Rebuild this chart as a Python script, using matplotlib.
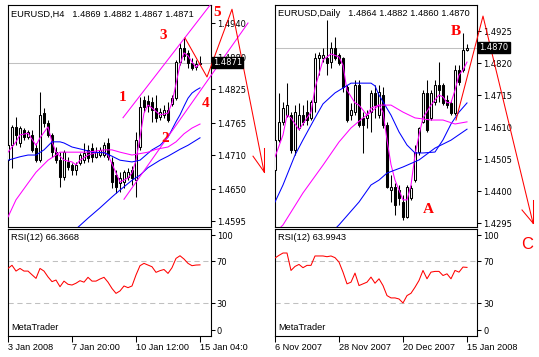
import matplotlib
matplotlib.use("Agg")
import matplotlib.pyplot as plt
from matplotlib.patches import Rectangle
from matplotlib.transforms import Bbox

plt.rcParams['font.family'] = ['DejaVu Sans']

# ---------------- EURUSD H4 ----------------
h4_open = [1.4701, 1.4727, 1.4759, 1.4731, 1.4754, 1.4741, 1.4745, 1.4722, 1.4701, 1.4783,
           1.4766, 1.4745, 1.4715, 1.4701, 1.4672, 1.4698, 1.4693, 1.4684, 1.4696, 1.4701,
           1.4719, 1.4722, 1.4707, 1.4710, 1.4710, 1.4731, 1.4698, 1.4675, 1.4661, 1.4663,
           1.4672, 1.4684, 1.4667, 1.4724, 1.4806, 1.4804, 1.4802, 1.4792, 1.4776, 1.4780,
           1.4789, 1.4799, 1.4809, 1.4872, 1.4897, 1.4888, 1.4870, 1.4863, 1.4869]
h4_high = [1.4736, 1.4762, 1.4776, 1.4761, 1.4757, 1.4754, 1.4754, 1.4731, 1.4820, 1.4792,
           1.4771, 1.4748, 1.4724, 1.4715, 1.4719, 1.4707, 1.4696, 1.4698, 1.4714, 1.4731,
           1.4727, 1.4731, 1.4724, 1.4724, 1.4733, 1.4740, 1.4707, 1.4684, 1.4681, 1.4684,
           1.4688, 1.4691, 1.4750, 1.4811, 1.4813, 1.4815, 1.4811, 1.4815, 1.4792, 1.4797,
           1.4802, 1.4815, 1.4876, 1.4905, 1.4914, 1.4893, 1.4879, 1.4876, 1.4882]
h4_low = [1.4693, 1.4688, 1.4727, 1.4724, 1.4736, 1.4738, 1.4715, 1.4698, 1.4698, 1.4759,
          1.4741, 1.4707, 1.4696, 1.4654, 1.4667, 1.4684, 1.4675, 1.4675, 1.4693, 1.4696,
          1.4698, 1.4698, 1.4705, 1.4707, 1.4707, 1.4701, 1.4653, 1.4644, 1.4646, 1.4653,
          1.4667, 1.4658, 1.4637, 1.4719, 1.4785, 1.4785, 1.4768, 1.4768, 1.4771, 1.4775,
          1.4768, 1.4795, 1.4806, 1.4867, 1.4876, 1.4862, 1.4858, 1.4858, 1.4867]
h4_close = [1.4727, 1.4759, 1.4745, 1.4757, 1.4741, 1.4750, 1.4719, 1.4701, 1.4780, 1.4766,
            1.4745, 1.4715, 1.4701, 1.4672, 1.4715, 1.4689, 1.4684, 1.4693, 1.4710, 1.4714,
            1.4705, 1.4707, 1.4715, 1.4719, 1.4727, 1.4707, 1.4663, 1.4654, 1.4670, 1.4681,
            1.4681, 1.4670, 1.4736, 1.4794, 1.4794, 1.4795, 1.4789, 1.4775, 1.4785, 1.4789,
            1.4771, 1.4809, 1.4872, 1.4897, 1.4883, 1.4870, 1.4862, 1.4869, 1.4871]
h4_rsi = [63, 66, 60.5, 63, 60.5, 60.5, 57, 53.6, 63, 60.5, 55, 50.5, 52, 45.7, 51, 48, 47.3,
          49, 51.4, 50, 54.6, 51, 51, 53, 54.6, 50, 44, 39.4, 41.7, 46.4, 44.8, 46.4, 56.8,
          65.6, 67.8, 66.2, 64.6, 59.3, 60.9, 62, 58.3, 63.7, 72.5, 75, 71.9, 67.8, 65.6,
          66.2, 66.37]
h4_ma_fast_i = [0, 2, 3, 5, 7, 8, 10, 11, 12, 14, 16, 17, 18, 20, 22, 24, 25, 27, 28, 30, 31,
                32, 33, 34, 35, 36, 38, 40, 41, 42, 43, 44, 45, 46, 47, 48]
h4_ma_fast_v = [1.4715, 1.4733, 1.4745, 1.4748, 1.4727, 1.4740, 1.4759, 1.4733, 1.4715, 1.4701,
                1.4698, 1.4693, 1.4701, 1.4710, 1.4714, 1.4715, 1.4710, 1.4679, 1.4663, 1.4670,
                1.4679, 1.4701, 1.4741, 1.4783, 1.4797, 1.4792, 1.4780, 1.4783, 1.4801, 1.4834,
                1.4867, 1.4888, 1.4883, 1.4872, 1.4863, 1.4869]
h4_ma_mid_i = [0, 3, 5, 7, 9, 11, 13, 14, 16, 19, 21, 24, 26, 28, 31, 33, 36, 38, 40, 42, 43,
               44, 45, 46, 47, 48]
h4_ma_mid_v = [1.4701, 1.4707, 1.4710, 1.4710, 1.4719, 1.4733, 1.4733, 1.4731, 1.4724, 1.4719,
               1.4715, 1.4714, 1.4708, 1.4701, 1.4698, 1.4701, 1.4719, 1.4727, 1.4741, 1.4768,
               1.4780, 1.4795, 1.4809, 1.4818, 1.4823, 1.4827]
h4_ma_slow_i = [0, 2, 5, 7, 10, 12, 13, 16, 20, 24, 26, 28, 31, 35, 37, 40, 42, 44, 46, 48]
h4_ma_slow_v = [1.4602, 1.4632, 1.4661, 1.4680, 1.4701, 1.4710, 1.4715, 1.4715, 1.4715, 1.4719,
                1.4719, 1.4715, 1.4710, 1.4715, 1.4720, 1.4724, 1.4733, 1.4747, 1.4757, 1.4764]
h4_ma_long_i = [17, 20, 23, 26, 28, 31, 33, 35, 38, 40, 43, 45, 48]
h4_ma_long_v = [1.4581, 1.4600, 1.4618, 1.4637, 1.4649, 1.4666, 1.4675, 1.4688, 1.4701, 1.4708,
                1.4720, 1.4727, 1.4740]
h4_yticks = [1.4595, 1.4650, 1.4710, 1.4765, 1.4825, 1.4880, 1.4940]
h4_xticks = [0, 16, 32, 48]
h4_xlabels = ['3 Jan 2008', '7 Jan 20:00', '10 Jan 12:00', '15 Jan 04:00']
h4_wave_x = [44.25, 49.75, 56, 64]
h4_wave_y = [1.4914, 1.4846, 1.4964, 1.4681]
h4_arrow = [([61.25, 64], [1.4708, 1.4681]), ([64, 64], [1.4722, 1.4681])]
h4_chan_up = ([28.75, 50.5], [1.4775, 1.4971])
h4_chan_lo = ([29, 60], [1.4633, 1.4940])
h4_marks = [('1', 28.75, 1.4811), ('2', 39.25, 1.4738), ('3', 38.75, 1.4919),
            ('4', 49.5, 1.4799), ('5', 52.25, 1.4958)]

# ---------------- EURUSD Daily ----------------
d1_open = [1.4469, 1.4568, 1.4627, 1.4649, 1.4649, 1.4535, 1.4607, 1.4649, 1.4659, 1.4640,
           1.4692, 1.4837, 1.4837, 1.4837, 1.4824, 1.4869, 1.4847, 1.4837, 1.4741, 1.4649,
           1.4659, 1.4748, 1.4640, 1.4640, 1.4659, 1.4722, 1.4649, 1.4715, 1.4617, 1.4403,
           1.4413, 1.4403, 1.4364, 1.4315, 1.4377, 1.4436, 1.4528, 1.4627, 1.4722, 1.4640,
           1.4692, 1.4748, 1.4748, 1.4699, 1.4689, 1.4656, 1.4797, 1.4797, 1.4864]
d1_high = [1.4584, 1.4722, 1.4692, 1.4754, 1.4659, 1.4682, 1.4689, 1.4682, 1.4699, 1.4699,
           1.4853, 1.4856, 1.4869, 1.4961, 1.4889, 1.4905, 1.4853, 1.4840, 1.4748, 1.4689,
           1.4764, 1.4764, 1.4659, 1.4666, 1.4731, 1.4748, 1.4748, 1.4741, 1.4627, 1.4452,
           1.4426, 1.4420, 1.4387, 1.4420, 1.4420, 1.4551, 1.4610, 1.4731, 1.4764, 1.4731,
           1.4764, 1.4824, 1.4754, 1.4715, 1.4699, 1.4813, 1.4813, 1.4918, 1.4882]
d1_low = [1.4462, 1.4561, 1.4617, 1.4643, 1.4525, 1.4518, 1.4601, 1.4617, 1.4617, 1.4633,
          1.4659, 1.4781, 1.4824, 1.4781, 1.4804, 1.4830, 1.4813, 1.4725, 1.4627, 1.4633,
          1.4649, 1.4610, 1.4525, 1.4607, 1.4594, 1.4640, 1.4640, 1.4607, 1.4410, 1.4364,
          1.4321, 1.4354, 1.4305, 1.4312, 1.4370, 1.4430, 1.4518, 1.4623, 1.4594, 1.4633,
          1.4682, 1.4692, 1.4682, 1.4672, 1.4649, 1.4649, 1.4748, 1.4791, 1.4860]
d1_close = [1.4568, 1.4627, 1.4672, 1.4682, 1.4535, 1.4659, 1.4649, 1.4627, 1.4633, 1.4692,
            1.4837, 1.4847, 1.4847, 1.4820, 1.4869, 1.4837, 1.4820, 1.4741, 1.4633, 1.4666,
            1.4748, 1.4617, 1.4617, 1.4649, 1.4722, 1.4682, 1.4725, 1.4617, 1.4413, 1.4413,
            1.4354, 1.4377, 1.4315, 1.4413, 1.4410, 1.4528, 1.4607, 1.4722, 1.4601, 1.4722,
            1.4748, 1.4731, 1.4689, 1.4682, 1.4656, 1.4797, 1.4758, 1.4863, 1.4870]
d1_rsi = [72.9, 75.4, 77.6, 77.6, 61.1, 64.9, 66.8, 63.7, 65.9, 65.9, 74.8, 74.8, 74.8, 74.1,
          74.8, 73.2, 69, 59.5, 48.4, 50, 58.6, 46.8, 48.4, 50, 54.8, 49, 53.2, 46.8, 37.3,
          35.1, 35.1, 34.1, 30.3, 37.3, 39.5, 45.2, 51.6, 61.1, 53.2, 59.5, 60.2, 60.2, 56.3,
          57.9, 53.2, 61.1, 59.5, 64.3, 63.99]
d1_ma_fast_i = [0, 2, 3, 4, 6, 8, 9, 10, 12, 14, 16, 17, 18, 20, 21, 23, 24, 26, 27, 28, 29,
                30, 32, 33, 34, 35, 36, 37, 39, 41, 42, 43, 44, 45, 46, 47, 48]
d1_ma_fast_v = [1.4512, 1.4584, 1.4649, 1.4640, 1.4601, 1.4640, 1.4659, 1.4738, 1.4830, 1.4850,
                1.4840, 1.4813, 1.4731, 1.4689, 1.4682, 1.4649, 1.4672, 1.4682, 1.4659, 1.4568,
                1.4487, 1.4436, 1.4371, 1.4371, 1.4420, 1.4518, 1.4584, 1.4640, 1.4682, 1.4715,
                1.4709, 1.4690, 1.4690, 1.4731, 1.4781, 1.4797, 1.4823]
d1_ma_mid_i = [0, 2, 5, 7, 10, 12, 15, 17, 19, 22, 24, 25, 26, 29, 31, 33, 35, 37, 40, 42, 44,
               46, 48]
d1_ma_mid_v = [1.4364, 1.4420, 1.4518, 1.4568, 1.4640, 1.4686, 1.4722, 1.4738, 1.4754, 1.4754,
               1.4754, 1.4745, 1.4715, 1.4649, 1.4594, 1.4551, 1.4525, 1.4525, 1.4528, 1.4568,
               1.4620, 1.4659, 1.4689]
d1_ma_slow_i = [1, 2, 4, 7, 12, 16, 19, 22, 24, 26, 29, 32, 35, 39, 42, 45, 48]
d1_ma_slow_v = [1.4276, 1.4289, 1.4331, 1.4394, 1.4485, 1.4561, 1.4607, 1.4640, 1.4659, 1.4682,
                1.4682, 1.4659, 1.4640, 1.4633, 1.4633, 1.4620, 1.4627]
d1_ma_long_i = [15, 16, 21, 24, 26, 28, 32, 36, 40, 44, 48]
d1_ma_long_v = [1.4276, 1.4289, 1.4364, 1.4420, 1.4436, 1.4459, 1.4479, 1.4502, 1.4541, 1.4567,
                1.4603]
d1_yticks = [1.4295, 1.4400, 1.4505, 1.4610, 1.4715, 1.4820, 1.4925]
d1_xticks = [0, 16, 32, 48]
d1_xlabels = ['6 Nov 2007', '28 Nov 2007', '20 Dec 2007', '15 Jan 2008']
d1_wave_x = [45.25, 52, 64.5]
d1_wave_y = [1.4633, 1.4974, 1.4295]
d1_arrow = [([61.75, 64.5], [1.4338, 1.4295]), ([64.5, 64.5], [1.4370, 1.4295])]
d1_marks = [('A', 38.25, 1.4338), ('B', 45.25, 1.4922)]
d1_mark_c = ('C', 63, 1.4226)

W, H = 539, 357
fig = plt.figure(figsize=(W / 100, H / 100), dpi=100)
fig.patch.set_facecolor('white')


def px_axes(x0, y0, x1, y1):
    ax = fig.add_axes([x0 / W, 1 - y1 / H, (x1 - x0) / W, (y1 - y0) / H])
    for s in ax.spines.values():
        s.set_linewidth(0.8)
        s.set_color('black')
    ax.set_facecolor('white')
    return ax


def fig_text(x, y, s, **kw):
    fig.text(x / W, 1 - y / H, s, va='center', ha='left', **kw)


LW = 0.75
RED, MAG, BLUE = '#ff0000', '#ff00ff', '#0000ff'


def draw_main(ax, o, h, l, c, mas, yticks, ylim, xlim, last):
    ax.set_xlim(*xlim)
    ax.set_ylim(*ylim)
    ax.axhline(last, color='#c0c0c0', lw=LW, zorder=1)
    for i in range(len(o)):
        ax.vlines(i, l[i], h[i], color='black', lw=LW, zorder=3)
        lo, hi = min(o[i], c[i]), max(o[i], c[i])
        fc = 'white' if c[i] >= o[i] else 'black'
        if hi - lo < 0.00015:
            ax.hlines((lo + hi) / 2, i - 0.3, i + 0.3, color='black', lw=LW, zorder=4)
        else:
            ax.add_patch(Rectangle((i - 0.3, lo), 0.6, hi - lo, facecolor=fc,
                                   edgecolor='black', lw=LW, zorder=4))
    for xi, v, col in mas:
        ax.plot(xi, v, color=col, lw=LW, zorder=5)
    ax.yaxis.tick_right()
    ax.set_yticks(yticks)
    ax.set_yticklabels([f'{t:.4f}' for t in yticks])
    ax.tick_params(axis='y', direction='out', length=3, width=LW, pad=1.5, labelsize=6)
    ax.set_xticks([])


def draw_rsi(ax, rsi, xlim, xticks, xlabels, clipx=None):
    ax.set_xlim(*xlim)
    ax.set_ylim(-0.95, 100.8)
    for lv in (30, 70):
        ax.axhline(lv, color='#c0c0c0', lw=LW, dashes=(5, 3.5), zorder=1)
    ax.plot(range(len(rsi)), rsi, color=RED, lw=LW, zorder=3)
    ax.yaxis.tick_right()
    ax.set_yticks([4.7, 30, 70, 94.5])
    ax.set_yticklabels(['0', '30', '70', '100'])
    ax.tick_params(axis='y', direction='out', length=3, width=LW, pad=1.5, labelsize=6)
    ax.set_xticks(xticks)
    ax.set_xticklabels(xlabels, fontfamily='Liberation Sans')
    ax.tick_params(axis='x', direction='out', length=4, width=LW, pad=1, labelsize=6.6)
    for t in ax.get_xticklabels():
        t.set_horizontalalignment('left')
        if clipx is not None:
            t.set_clip_box(Bbox([[0, 0], [clipx, H]]))
            t.set_clip_on(True)


def price_box(ax, price, text):
    ax.text(1.0 + 2.5 / 203, price, text, transform=ax.get_yaxis_transform(),
            color='white', fontsize=6, ha='left', va='center', zorder=10, clip_on=False,
            bbox=dict(boxstyle='square,pad=0.12', fc='black', ec='black'))


serif = dict(family='Liberation Serif', weight='bold', color=RED, fontsize=11,
             ha='center', va='center', clip_on=False, zorder=8)

# ---- left chart ----
axL = px_axes(7.5, 5, 210.5, 226.5)
draw_main(axL, h4_open, h4_high, h4_low, h4_close,
          [(h4_ma_fast_i, h4_ma_fast_v, MAG), (h4_ma_mid_i, h4_ma_mid_v, BLUE),
           (h4_ma_slow_i, h4_ma_slow_v, MAG), (h4_ma_long_i, h4_ma_long_v, BLUE)],
          h4_yticks, (1.45855, 1.49714), (-0.125, 50.625), h4_close[-1])
axL.plot(*h4_chan_up, color=MAG, lw=LW, zorder=6)
axL.plot(*h4_chan_lo, color=MAG, lw=LW, zorder=6, clip_on=False)
axL.plot(h4_wave_x, h4_wave_y, color=RED, lw=LW, zorder=7, clip_on=False)
for ax_, ay_ in h4_arrow:
    axL.plot(ax_, ay_, color=RED, lw=LW, zorder=7, clip_on=False)
for s, x, y in h4_marks:
    axL.text(x, y, s, **serif)
price_box(axL, h4_close[-1], f'{h4_close[-1]:.4f}')

axLr = px_axes(7.5, 228.5, 210.5, 336)
draw_rsi(axLr, h4_rsi, (-0.125, 50.625), h4_xticks, h4_xlabels, clipx=248)

# ---- right chart ----
axR = px_axes(274.5, 5, 477, 226.5)
draw_main(axR, d1_open, d1_high, d1_low, d1_close,
          [(d1_ma_fast_i, d1_ma_fast_v, MAG), (d1_ma_mid_i, d1_ma_mid_v, BLUE),
           (d1_ma_slow_i, d1_ma_slow_v, MAG), (d1_ma_long_i, d1_ma_long_v, BLUE)],
          d1_yticks, (1.42838, 1.50103), (-0.125, 50.5), d1_close[-1])
axR.plot(d1_wave_x, d1_wave_y, color=RED, lw=LW, zorder=7, clip_on=False)
for ax_, ay_ in d1_arrow:
    axR.plot(ax_, ay_, color=RED, lw=LW, zorder=7, clip_on=False)
for s, x, y in d1_marks:
    axR.text(x, y, s, **serif)
axR.text(d1_mark_c[1], d1_mark_c[2], d1_mark_c[0], family='Liberation Sans', color=RED,
         fontsize=12, ha='center', va='center', clip_on=False, zorder=8)
price_box(axR, d1_close[-1], f'{d1_close[-1]:.4f}')

axRr = px_axes(274.5, 228.5, 477, 336)
draw_rsi(axRr, d1_rsi, (-0.125, 50.5), d1_xticks, d1_xlabels)

# ---- header texts ----
hdr = dict(fontsize=6.7, family='Liberation Sans', color='black')
fig_text(11, 14, 'EURUSD,H4   ' + ' '.join(f'{v:.4f}' for v in
         (h4_open[-1], h4_high[-1], h4_low[-1], h4_close[-1])), **hdr)
fig_text(278.5, 14, 'EURUSD,Daily   ' + ' '.join(f'{v:.4f}' for v in
         (d1_open[-1], d1_high[-1], d1_low[-1], d1_close[-1])), **hdr)
fig_text(11, 238, f'RSI(12) {66.3668:.4f}', **hdr)
fig_text(278, 238, f'RSI(12) {63.9943:.4f}', **hdr)
fig_text(11, 327, 'MetaTrader', **hdr)
fig_text(278, 327, 'MetaTrader', **hdr)

fig.savefig('out.png', dpi=100, facecolor='white')
